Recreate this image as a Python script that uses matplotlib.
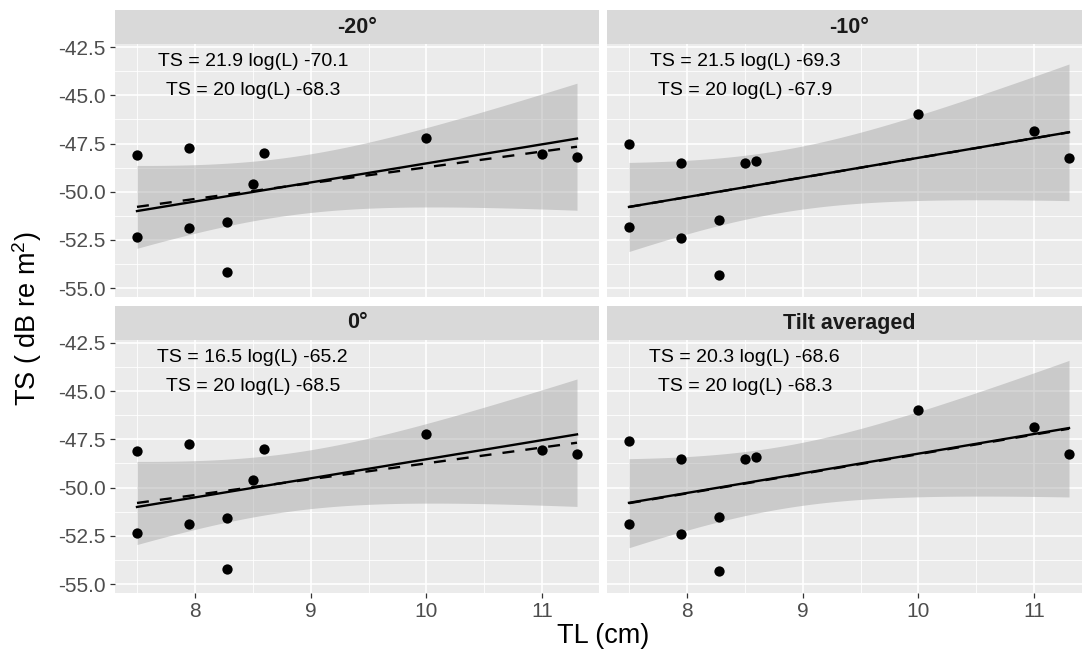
"""
TS vs TL по углам наклона: точки, lm-сглаживание с 95% CI и линии регрессии
Сохраняет out.png
"""
import numpy as np
import matplotlib
matplotlib.use('Agg')
import matplotlib.pyplot as plt
from matplotlib.ticker import MultipleLocator, FormatStrFormatter

plt.rcParams.update({
    'font.family': ['Liberation Sans', 'DejaVu Sans'],
    'mathtext.fontset': 'custom', 'mathtext.rm': 'Liberation Sans',
    'mathtext.it': 'Liberation Sans:italic', 'mathtext.bf': 'Liberation Sans:bold',
    'axes.unicode_minus': False, 'lines.scale_dashes': False,
})

# ====================== данные ======================
tl_cm = [7.5, 7.5, 7.95, 7.95, 8.28, 8.28, 8.5, 8.6, 10.0, 11.0, 11.3]

ts_m20 = [-48.09, -52.37, -47.72, -51.90, -51.55, -54.18, -49.60, -47.98, -47.22, -48.05, -48.21]
ts_m10 = [-47.54, -51.85, -48.49, -52.41, -51.49, -54.33, -48.50, -48.42, -45.96, -46.85, -48.24]
ts_0 = [-48.10, -52.37, -47.73, -51.91, -51.58, -54.20, -49.60, -47.99, -47.22, -48.04, -48.24]
ts_avg = [-47.57, -51.88, -48.50, -52.42, -51.51, -54.34, -48.53, -48.43, -45.99, -46.88, -48.27]

panel_titles = ['-20°', '-10°', '0°', 'Tilt averaged']
panel_ts = [ts_m20, ts_m10, ts_0, ts_avg]
eq_free = ['TS = 21.9 log(L) -70.1', 'TS = 21.5 log(L) -69.3',
           'TS = 16.5 log(L) -65.2', 'TS = 20.3 log(L) -68.6']
eq_fixed = ['TS = 20 log(L) -68.3', 'TS = 20 log(L) -67.9',
            'TS = 20 log(L) -68.5', 'TS = 20 log(L) -68.3']

# сплошная линия: TS = k * TL + c
line_k = [0.99, 1.02, 0.99, 1.02]
line_c = [-58.43, -58.44, -58.43, -58.44]

T975 = 2.262  # t(0.975, df = 9)

XLIM = (7.31, 11.49)
YLIM = (-55.45, -42.35)


def lm_band(x, y, xs):
    x = np.asarray(x); y = np.asarray(y)
    slope, icpt = np.polyfit(x, y, 1)
    fit = icpt + slope * xs
    resid = y - (icpt + slope * x)
    s = np.sqrt(np.sum(resid ** 2) / (len(x) - 2))
    se = s * np.sqrt(1 / len(x) + (xs - x.mean()) ** 2 / np.sum((x - x.mean()) ** 2))
    return fit, fit - T975 * se, fit + T975 * se


# ====================== раскладка (px) ======================
W, H = 1082, 653
fig = plt.figure(figsize=(W / 100, H / 100), dpi=100, facecolor='white')
col_x = [115, 607]; pw = 484
rows = [(10, 44.3, 296.7), (306, 340, 592.7)]  # strip top, panel top, panel bottom

xs = np.linspace(min(tl_cm), max(tl_cm), 200)

for i, (title, ts) in enumerate(zip(panel_titles, panel_ts)):
    r, c = divmod(i, 2)
    ys, y0, y1 = rows[r]
    x0 = col_x[c]

    ax = fig.add_axes([x0 / W, (H - y1) / H, pw / W, (y1 - y0) / H])
    ax.set_facecolor('#EBEBEB')
    for sp in ax.spines.values():
        sp.set_visible(False)
    ax.set_xlim(*XLIM); ax.set_ylim(*YLIM)
    ax.xaxis.set_major_locator(MultipleLocator(1))
    ax.xaxis.set_minor_locator(MultipleLocator(0.5))
    ax.yaxis.set_major_locator(MultipleLocator(2.5))
    ax.yaxis.set_minor_locator(MultipleLocator(1.25))
    ax.yaxis.set_major_formatter(FormatStrFormatter('%.1f'))
    ax.grid(which='major', color='white', lw=1.2)
    ax.grid(which='minor', color='white', lw=0.6)
    ax.set_axisbelow(True)
    ax.tick_params(which='minor', length=0)
    ax.tick_params(which='major', length=3.5, width=0.9, color='#333333',
                   labelcolor='#4D4D4D', labelsize=15, pad=3)
    if c == 1:
        ax.tick_params(axis='y', length=0, labelleft=False)
    if r == 0:
        ax.tick_params(axis='x', length=0, labelbottom=False)

    xv = np.asarray(tl_cm)
    fit, lo, hi = lm_band(tl_cm, ts, xs)
    ax.fill_between(xs, lo, hi, color='#999999', alpha=0.4, lw=0, zorder=2)
    ax.plot(xs, fit, color='black', lw=1.7, ls=(0, (8.6, 8)), zorder=3)
    ax.plot(xs, line_k[i] * xs + line_c[i], color='black', lw=1.7, zorder=3)
    ax.scatter(xv, ts, s=55, color='black', lw=0, zorder=4)

    ax.text(8.5, -43.25, eq_free[i], ha='center', va='center', fontsize=14, color='black')
    ax.text(8.5, -44.75, eq_fixed[i], ha='center', va='center', fontsize=14, color='black')

    sax = fig.add_axes([x0 / W, (H - y0) / H, pw / W, (y0 - ys) / H])
    sax.set_facecolor('#D9D9D9')
    sax.set_xticks([]); sax.set_yticks([])
    for sp in sax.spines.values():
        sp.set_visible(False)
    sax.text(0.5, 0.5, title, ha='center', va='center', fontsize=15.5,
             fontweight='bold', color='#1A1A1A', transform=sax.transAxes)

fig.text(603 / W, (H - 636) / H, 'TL (cm)', ha='center', va='center', fontsize=19.5)
fig.text(27 / W, (H - 318.5) / H, r'TS ( dB re m$^2$)', ha='center', va='center',
         rotation=90, fontsize=19.5)

fig.savefig('out.png', dpi=100, facecolor='white')
